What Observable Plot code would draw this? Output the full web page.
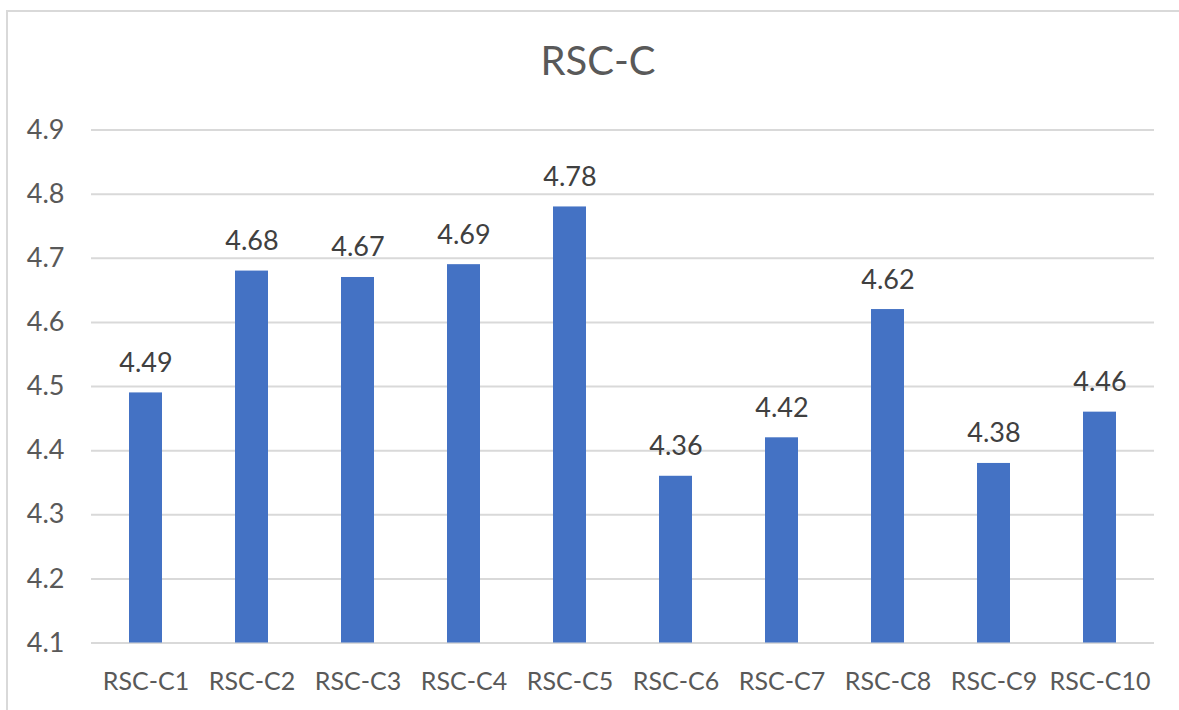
<!DOCTYPE html>
<html>
<head>
<meta charset="utf-8">
<script src="https://cdn.jsdelivr.net/npm/d3@7"></script>
<script src="https://cdn.jsdelivr.net/npm/@observablehq/plot@0.6"></script>
<style>
  html, body { margin: 0; padding: 0; background: #fff; }
  body { width: 1179px; height: 710px; overflow: hidden; position: relative; font-family: Lato, "Open Sans", sans-serif; }
  #frame { position: absolute; left: 6px; top: 10px; width: 1300px; height: 800px;
           border-left: 2px solid #d9d9d9; border-top: 2px solid #d9d9d9; box-sizing: border-box; }
  #title { position: relative; height: 100px; width: 1179px; box-sizing: border-box;
           padding-left: 17px; padding-top: 40px; text-align: center;
           font-size: 40px; line-height: 40px; color: #595959; }
  #chart { position: relative; }
</style>
</head>
<body>
<div id="frame"></div>
<div id="title">RSC-C</div>
<div id="chart"></div>
<script>
// Mean scores for the RSC-C items
const categories = ["RSC-C1", "RSC-C2", "RSC-C3", "RSC-C4", "RSC-C5", "RSC-C6", "RSC-C7", "RSC-C8", "RSC-C9", "RSC-C10"];
const values = [4.49, 4.68, 4.67, 4.69, 4.78, 4.36, 4.42, 4.62, 4.38, 4.46];
const yTicks = [4.1, 4.2, 4.3, 4.4, 4.5, 4.6, 4.7, 4.8, 4.9];

const yMin = yTicks[0];
const yMax = yTicks[yTicks.length - 1];
const data = categories.map((c, i) => ({category: c, value: values[i]}));

const chart = Plot.plot({
  width: 1179,
  height: 610,
  marginTop: 29.5,
  marginBottom: 67.5,
  marginLeft: 91,
  marginRight: 25,
  style: {fontFamily: "Lato, 'Open Sans', sans-serif", fontSize: "27px", color: "#595959", background: "transparent"},
  x: {domain: categories, paddingInner: 0.69, paddingOuter: 0.345, label: null},
  y: {domain: [yMin, yMax], ticks: yTicks, label: null},
  marks: [
    Plot.ruleY(yTicks, {stroke: "#d9d9d9", strokeWidth: 2}),
    Plot.barY(data, {x: "category", y1: () => yMin, y2: "value", fill: "#4472C4"}),
    Plot.text(data, {x: "category", y: "value", text: d => d.value.toFixed(2),
      dy: -21, lineAnchor: "bottom", fill: "#404040", fontSize: 27}),
    Plot.axisY(yTicks, {tickSize: 0, tickPadding: 27, tickFormat: d => d.toFixed(1), fontSize: 27, fill: "#595959"}),
    Plot.axisX({tickSize: 0, tickPadding: 29, fontSize: 25, fill: "#595959"})
  ]
});
document.getElementById("chart").appendChild(chart);
</script>
</body>
</html>
